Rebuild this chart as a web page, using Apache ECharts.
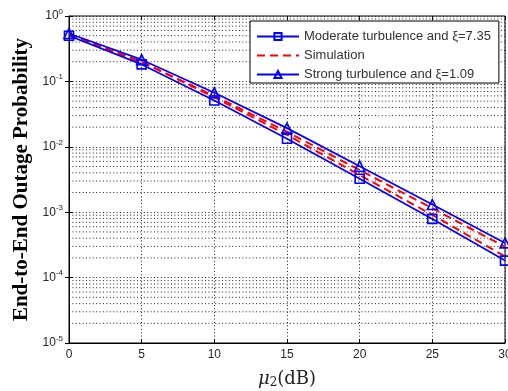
<!DOCTYPE html>
<html>
<head>
<meta charset="utf-8">
<script src="https://cdn.jsdelivr.net/npm/echarts@6/dist/echarts.min.js"></script>
<style>html,body{margin:0;padding:0;background:#fff}#c{width:508px;height:391px}</style>
</head>
<body>
<div id="c"></div>
<script>
// ---- data ----
const xValues = [0, 5, 10, 15, 20, 25, 30];
const moderate = [0.50, 0.182, 0.051, 0.0133, 0.00324, 0.00079, 0.000182];
const strong = [0.54, 0.215, 0.067, 0.0193, 0.00505, 0.00131, 0.000339];
const simModerate = [0.51, 0.20, 0.057, 0.0152, 0.0037, 0.00091, 0.00021];
const simStrong = [0.52, 0.196, 0.060, 0.0170, 0.0044, 0.00115, 0.000295];
const legendNames = ['Moderate turbulence and \u03BE=7.35', 'Simulation', 'Strong turbulence and \u03BE=1.09'];
const xTicks = [0, 5, 10, 15, 20, 25, 30];
const yDecades = [-5, -4, -3, -2, -1, 0];

const X_MIN = xTicks[0], X_MAX = xTicks[xTicks.length - 1];
const pairs = (xs, ys) => xs.map((x, i) => [x, ys[i]]);
const minorGrid = [];
for (let d = yDecades[0]; d < yDecades[yDecades.length - 1]; d++) {
  for (let k = 2; k <= 9; k++) minorGrid.push([X_MIN, k * Math.pow(10, d)]);
}

const BLUE = '#0000ff', RED = '#ff0000';
const dotted = { color: '#222', type: [1, 2.4], width: 1 };
const HIDDEN = 'rgba(0,0,0,0)';

const chart = echarts.init(document.getElementById('c'), null, { renderer: 'canvas' });
chart.setOption({
  animation: false,
  backgroundColor: '#fff',
  grid: { left: 69, right: 3, top: 16, bottom: 48, containLabel: false, outerBoundsMode: 'none',
    show: true, borderColor: '#000', borderWidth: 1, backgroundColor: 'transparent' },
  legend: {
    data: [
      { name: legendNames[0] },
      { name: legendNames[1], itemStyle: { color: HIDDEN, borderColor: HIDDEN, borderWidth: 0 } },
      { name: legendNames[2] }
    ],
    orient: 'vertical',
    left: 250, top: 21,
    backgroundColor: '#fff',
    borderColor: '#000', borderWidth: 1,
    padding: [8, 8, 1, 6],
    itemGap: 4,
    itemWidth: 42, itemHeight: 9,
    textStyle: { fontFamily: 'Liberation Sans', fontSize: 13, color: '#333', lineHeight: 15 }
  },
  xAxis: [{
    type: 'value', min: X_MIN, max: X_MAX, interval: 5,
    name: '{m|\u03BC}{s|2}{n|(dB)}', nameLocation: 'middle', nameGap: 26,
    nameTextStyle: { rich: {
      m: { fontFamily: 'DejaVu Serif', fontStyle: 'italic', fontSize: 18, color: '#222' },
      s: { fontFamily: 'DejaVu Serif', fontSize: 12, color: '#222', padding: [8, 0, 0, 0] },
      n: { fontFamily: 'DejaVu Serif', fontSize: 18, color: '#222' }
    } },
    axisLine: { show: true, lineStyle: { color: '#000' } },
    axisTick: { show: true, inside: true, length: 4, lineStyle: { color: '#000' } },
    axisLabel: { margin: 6, fontFamily: 'Liberation Sans', fontSize: 12, color: '#262626' },
    splitLine: { show: true, lineStyle: dotted }
  }, {
    type: 'value', position: 'top', min: X_MIN, max: X_MAX, interval: 5,
    axisLine: { show: false }, axisLabel: { show: false }, splitLine: { show: false },
    axisTick: { show: true, inside: true, length: 4, lineStyle: { color: '#000' } }
  }],
  yAxis: [{
    type: 'log', logBase: 10, min: 1e-5, max: 1,
    name: 'End-to-End Outage Probability', nameLocation: 'middle', nameGap: 21,
    nameTextStyle: { fontFamily: 'Liberation Serif', fontWeight: 'bold', fontSize: 21, color: '#000' },
    axisLine: { show: true, lineStyle: { color: '#000' } },
    axisTick: { show: true, inside: true, length: 4, lineStyle: { color: '#000' } },
    axisLabel: {
      margin: 6,
      formatter: v => '{b|10}{e|' + Math.round(Math.log10(v)) + '}',
      rich: {
        b: { fontFamily: 'Liberation Sans', fontSize: 12, color: '#262626' },
        e: { fontFamily: 'Liberation Sans', fontSize: 8, color: '#262626', padding: [0, 0, 9, 0] }
      }
    },
    splitLine: { show: true, lineStyle: dotted }
  }, {
    type: 'log', logBase: 10, min: 1e-5, max: 1, position: 'right',
    axisLine: { show: false }, axisLabel: { show: false }, splitLine: { show: false },
    axisTick: { show: true, inside: true, length: 4, lineStyle: { color: '#000' } }
  }],
  series: [
    {
      name: 'grid-minor', type: 'custom', data: minorGrid, z: 1, silent: true,
      renderItem: (params, api) => {
        const v = api.value(1);
        const p1 = api.coord([X_MIN, v]);
        const p2 = api.coord([X_MAX, v]);
        return { type: 'line', shape: { x1: p1[0], y1: p1[1], x2: p2[0], y2: p2[1] },
          style: { stroke: dotted.color, lineWidth: 1, lineDash: dotted.type, fill: null } };
      }
    },
    {
      name: legendNames[0], type: 'line', data: pairs(xValues, moderate), z: 4,
      symbol: 'rect', symbolSize: 9,
      lineStyle: { color: BLUE, width: 1.7 },
      itemStyle: { color: HIDDEN, borderColor: BLUE, borderWidth: 1.6 }
    },
    {
      name: legendNames[1], type: 'line', data: pairs(xValues, simModerate), z: 3,
      symbol: 'none', lineStyle: { color: RED, width: 2, type: [8, 5] }, itemStyle: { color: RED }
    },
    {
      name: legendNames[1], type: 'line', data: pairs(xValues, simStrong), z: 3,
      symbol: 'none', lineStyle: { color: RED, width: 2, type: [8, 5] }, itemStyle: { color: RED }
    },
    {
      name: legendNames[2], type: 'line', data: pairs(xValues, strong), z: 4,
      symbol: 'triangle', symbolSize: 10,
      lineStyle: { color: BLUE, width: 1.7 },
      itemStyle: { color: HIDDEN, borderColor: BLUE, borderWidth: 1.6 }
    }
  ]
});
</script>
</body>
</html>
